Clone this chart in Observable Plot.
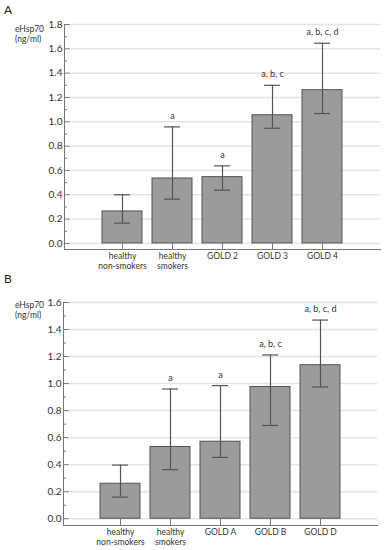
<!DOCTYPE html>
<html>
<head>
<meta charset="utf-8">
<script src="https://cdn.jsdelivr.net/npm/d3@7"></script>
<script src="https://cdn.jsdelivr.net/npm/@observablehq/plot@0.6"></script>
<style>
  body { margin: 0; background: #fff; font-family: Lato, "Open Sans", sans-serif; }
  #wrap { position: relative; width: 384px; height: 550px; }
  .panel { position: absolute; left: 0; width: 384px; }
  .letter { position: absolute; font-size: 12px; color: #222; }
  .ylab { position: absolute; font-size: 8.5px; line-height: 10px; color: #333; text-align: left; }
  svg { display: block; }
</style>
</head>
<body>
<div id="wrap">
  <div id="panelA" class="panel" style="top:0px"></div>
  <div id="panelB" class="panel" style="top:272px"></div>
  <div class="letter" style="left:4px; top:2px">A</div>
  <div class="letter" style="left:4px; top:271px">B</div>
  <div class="ylab" style="left:15px; top:24px">eHsp70<br>(ng/ml)</div>
  <div class="ylab" style="left:15px; top:300px">eHsp70<br>(ng/ml)</div>
</div>
<script>
// Panel A data
const catsA = ["healthy\nnon-smokers", "healthy\nsmokers", "GOLD 2", "GOLD 3", "GOLD 4"];
const meanA = [0.263, 0.534, 0.545, 1.054, 1.26];
const lowA  = [0.167, 0.364, 0.438, 0.947, 1.068];
const highA = [0.40, 0.958, 0.638, 1.30, 1.646];
const sigA  = ["", "a", "a", "a, b, c", "a, b, c, d"];
const ticksA = [0, 0.2, 0.4, 0.6, 0.8, 1.0, 1.2, 1.4, 1.6, 1.8];

// Panel B data
const catsB = ["healthy\nnon-smokers", "healthy\nsmokers", "GOLD A", "GOLD B", "GOLD D"];
const meanB = [0.259, 0.531, 0.57, 0.975, 1.136];
const lowB  = [0.16, 0.363, 0.454, 0.69, 0.975];
const highB = [0.397, 0.96, 0.985, 1.212, 1.47];
const sigB  = ["", "a", "a", "a, b, c", "a, b, c, d"];
const ticksB = [0, 0.2, 0.4, 0.6, 0.8, 1.0, 1.2, 1.4, 1.6];

function panel(cats, mean, low, high, sig, ticks, o) {
  const rows = cats.map((c, i) => ({cat: c, mean: mean[i], low: low[i], high: high[i], sig: sig[i]}));
  const ymax = ticks[ticks.length - 1];
  const minor = d3.range(0.1, ymax, 0.2);
  const fw = o.width - o.marginLeft - o.marginRight;
  const fh = o.height - o.marginTop - o.marginBottom;
  return Plot.plot({
    width: o.width, height: o.height,
    marginTop: o.marginTop, marginBottom: o.marginBottom,
    marginLeft: o.marginLeft, marginRight: o.marginRight,
    style: {fontFamily: "Lato, 'Open Sans', sans-serif", fontSize: "10px", color: "#333", background: "#fff"},
    x: {domain: cats, paddingInner: 0.2, paddingOuter: 0.1, inset: o.inset},
    y: {domain: [-0.05, ymax]},
    marks: [
      Plot.ruleY(ticks, {y: d => d, stroke: "#e4e4e4", strokeWidth: 1.5, insetLeft: 7}),
      Plot.barY(rows, {x: "cat", y: "mean", fill: "#9b9b9b", stroke: "#555", strokeWidth: 1}),
      Plot.ruleX(rows, {x: "cat", y1: "low", y2: "high", stroke: "#555", strokeWidth: 1.2}),
      Plot.tickY(rows, {x: "cat", y: "low", stroke: "#555", strokeWidth: 1.2, inset: 12}),
      Plot.tickY(rows, {x: "cat", y: "high", stroke: "#555", strokeWidth: 1.2, inset: 12}),
      Plot.text(rows, {x: "cat", y: "high", text: "sig", dy: -11, fontSize: 9, fill: "#333"}),
      Plot.frame({anchor: "left", stroke: "#777"}),
      Plot.frame({anchor: "bottom", stroke: "#777"}),
      Plot.ruleY(ticks, {y: d => d, stroke: "#777", insetRight: fw - 6}),
      Plot.ruleY(minor, {y: d => d, stroke: "#777", insetRight: fw - 3}),
      Plot.tickX(cats, {x: d => d, stroke: "#777", insetTop: fh - 6}),
      Plot.axisY({ticks: ticks, tickSize: 0, tickPadding: 2, tickFormat: d3.format(".1f"), label: null, fontSize: 10, fill: "#333"}),
      Plot.axisX({tickSize: 0, tickPadding: 3, lineHeight: 1.15, label: null, fontSize: 8.5, fill: "#333"})
    ]
  });
}

document.getElementById("panelA").append(
  panel(catsA, meanA, lowA, highA, sigA, ticksA,
    {width: 384, height: 272, marginTop: 24, marginBottom: 23, marginLeft: 64, marginRight: 4, inset: 32}));
document.getElementById("panelB").append(
  panel(catsB, meanB, lowB, highB, sigB, ticksB,
    {width: 384, height: 278, marginTop: 30, marginBottom: 25, marginLeft: 63, marginRight: 7, inset: 32}));
</script>
</body>
</html>
